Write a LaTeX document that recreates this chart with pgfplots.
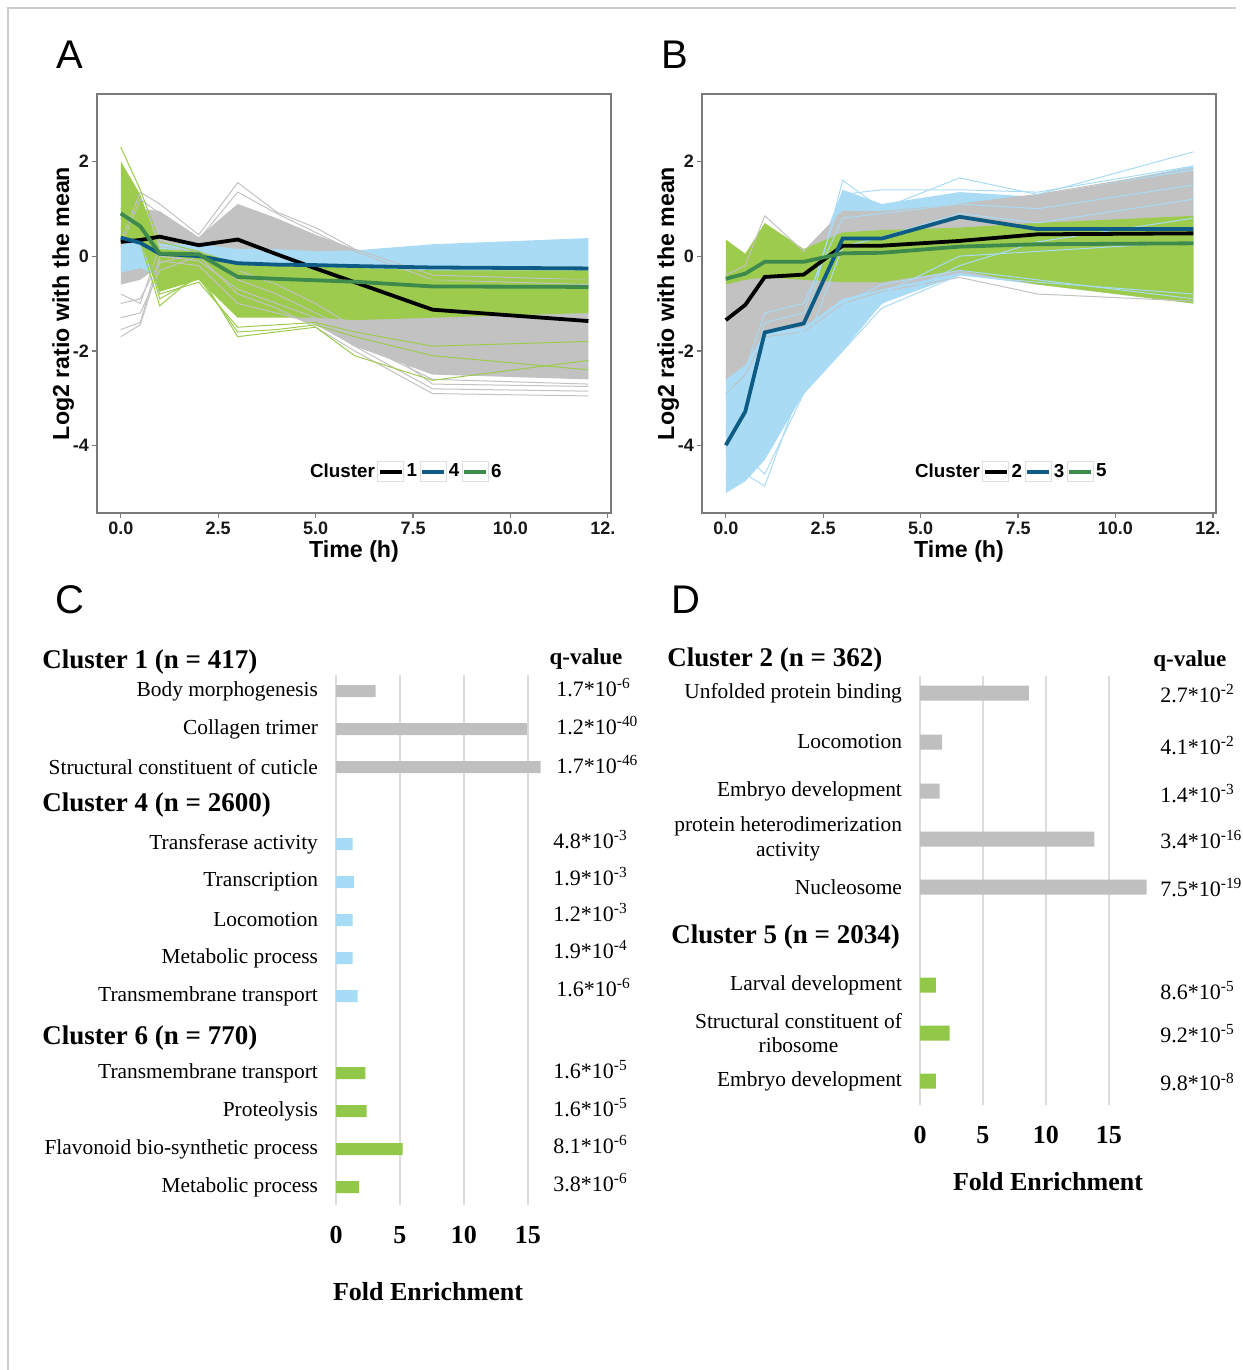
\documentclass[border=0pt]{standalone}
\usepackage{fontspec}
\setmainfont{Liberation Serif}
\setsansfont{Liberation Sans}
\usepackage{pgfplots}
\pgfplotsset{compat=1.18}
\usepackage{pgfplotstable}
\usepgfplotslibrary{fillbetween}

\definecolor{grayL}{HTML}{C2C2C2}
\definecolor{blueL}{HTML}{A9DBF5}
\definecolor{greenL}{HTML}{9CCB4E}
\definecolor{blueM}{HTML}{0E5C85}
\definecolor{greenM}{HTML}{3E8A4C}
\definecolor{frameC}{HTML}{7A7A7A}
\definecolor{barG}{HTML}{BFBFBF}
\definecolor{barB}{HTML}{A6DCF6}
\definecolor{barE}{HTML}{92C84A}
\definecolor{gridC}{HTML}{DCDCDC}

% ---------------- Panel A data ----------------
\pgfplotstableread{
t    m1     m4     m6
0    0.30   0.39   0.90
0.5  0.34   0.28   0.63
1    0.41   0.05   0.05
2    0.23   0.00   0.04
3    0.35  -0.15  -0.44
4    0.04  -0.18  -0.48
5   -0.26  -0.19  -0.51
6   -0.55  -0.21  -0.54
8   -1.13  -0.24  -0.64
12  -1.37  -0.26  -0.65
}\Ameans
\pgfplotstableread{
t    hi     lo     l1     l2     l3     l4     l5     l6     l7
0    0.45  -0.60   0.30   0.20  -1.70  -1.55  -1.30  -1.00  -0.80
0.5  1.00  -0.50   1.35   1.20  -1.45  -1.40  -1.20  -0.90  -1.00
1    0.95  -0.20   1.10   0.90  -0.15   0.00  -0.30  -0.10   0.20
2    0.40  -0.30   0.45   0.35   0.10  -0.10   0.00  -0.20   0.10
3    1.10  -1.00   1.55   1.35  -0.50  -0.70  -0.80  -1.00  -0.30
4    0.80  -1.20   0.93   0.90  -0.80  -1.00  -1.10  -1.20  -0.60
5    0.45  -1.45   0.60   0.50  -1.20  -1.30  -1.50  -1.40  -1.00
6    0.15  -1.90   0.15   0.10  -1.60  -1.80  -2.00  -1.90  -1.50
8   -0.30  -2.50  -0.40  -0.50  -2.30  -2.60  -2.90  -2.80  -2.70
12  -0.40  -2.60  -0.50  -0.60  -2.50  -2.70  -2.95  -2.85  -2.75
}\Agray
\pgfplotstableread{
t    hi     lo
0    0.55  -0.35
0.5  0.45  -0.25
1    0.25  -0.45
2    0.25  -0.35
3    0.15  -0.50
4    0.15  -0.50
5    0.10  -0.50
6    0.12  -0.55
8    0.25  -0.60
12   0.38  -0.75
}\Ablue
\pgfplotstableread{
t    hi     lo     l1     l2     l3     l4
0    2.00   0.40   2.30   0.60   0.80   1.00
0.5  1.30   0.30   1.40   0.30   0.50   0.60
1    0.15  -0.75   0.30  -1.05  -0.90  -0.80
2    0.10  -0.50   0.10  -0.35  -0.45  -0.55
3   -0.15  -1.30  -0.30  -1.70  -1.60  -1.50
4   -0.15  -1.30  -0.35  -1.60  -1.55  -1.45
5   -0.20  -1.30  -0.40  -1.50  -1.45  -1.40
6   -0.25  -1.35  -0.45  -2.10  -1.70  -1.60
8   -0.30  -1.30  -0.50  -2.62  -2.10  -1.90
12  -0.30  -1.20  -0.50  -2.20  -2.40  -1.80
}\Agreen

% ---------------- Panel B data ----------------
\pgfplotstableread{
t    m2     m3     m5
0   -1.35  -3.99  -0.48
0.5 -1.03  -3.28  -0.37
1   -0.44  -1.61  -0.12
2   -0.39  -1.42  -0.12
3    0.22   0.37   0.06
4    0.22   0.37   0.07
6    0.32   0.83   0.20
8    0.46   0.57   0.25
12   0.48   0.57   0.27
}\Bmeans
\pgfplotstableread{
t    hi     lo     l1     l2     l3     l4     l5     l6     l7     l8
0   -2.50  -5.00  -4.90  -4.50  -3.40  -3.70  -4.10  -2.90  -3.00  -4.70
0.5 -2.20  -4.75  -4.60  -4.20  -3.00  -3.10  -3.60  -2.40  -2.70  -4.00
1   -1.00  -4.30  -4.85  -4.60  -1.80  -1.40  -2.10  -1.20  -2.30  -3.00
2   -0.70  -2.90  -2.60  -2.90  -1.60  -1.20  -2.30  -1.00  -1.80  -2.00
3    1.40  -2.00  -1.00  -2.00   1.60   1.30  -1.90   0.80  -1.40   0.20
4    1.10  -1.00  -0.60  -1.10   1.00   1.40  -1.00   0.90  -0.80   0.40
6    1.35  -0.40  -0.30  -0.40   1.65   1.40  -0.20   1.10   0.00   0.90
8    1.25  -0.60  -0.50  -0.55   1.30   1.35   0.30   1.00   0.10   0.70
12   1.90  -1.00  -0.90  -0.80   2.20   1.90   0.80   1.50   0.30   1.20
}\Bblue
\pgfplotstableread{
t    hi     lo     l1     l2
0   -0.30  -2.60  -0.40  -2.90
0.5 -0.20  -2.30  -0.20  -2.50
1    0.40  -1.60   0.85  -1.70
2    0.10  -1.50   0.10  -1.60
3    0.95  -0.90   0.95  -1.00
4    0.95  -0.70   0.90  -0.75
6    1.10  -0.35   1.10  -0.45
8    1.30  -0.60   1.30  -0.80
12   1.80  -0.80   1.85  -0.95
}\Bgray
\pgfplotstableread{
t    hi     lo
0    0.35  -0.60
0.5  0.05  -0.50
1    0.70  -0.45
2    0.15  -0.50
3    0.50  -0.55
4    0.55  -0.55
6    0.60  -0.30
8    0.70  -0.60
12   0.85  -1.00
}\Bgreen

% ---------------- Panel C / D data ----------------
\pgfplotstableread{
y    v
691  3.1
729  14.95
767  16.0
}\Cone
\pgfplotstableread{
y    v
844  1.3
882  1.4
920  1.3
958  1.3
996  1.7
}\Cfour
\pgfplotstableread{
y    v
1073 2.3
1111 2.4
1149 5.2
1187 1.8
}\Csix
\pgfplotstableread{
y    v
693  8.65
742  1.75
791  1.55
839  13.85
887  18.0
}\Dtwo
\pgfplotstableread{
y    v
985  1.25
1033 2.35
1081 1.25
}\Dfive

\pgfplotsset{
  tsplot/.style={
    scale only axis, width=257pt, height=209.5pt,
    xmin=-0.61, xmax=12.58, ymin=-5.42, ymax=3.42,
    axis line style={draw=frameC, line width=0.7pt},
    tick align=outside, xtick pos=left, ytick pos=left,
    major tick length=2.5pt,
    tick style={draw=frameC, line width=0.6pt},
    xtick={0,2.5,5,7.5,10,12.5},
    xticklabels={0.0,2.5,5.0,7.5,10.0,{\rlap{12.}\phantom{12.5}}},
    ytick={-4,-2,0,2}, yticklabels={-4,-2,0,2},
    ticklabel style={font=\sffamily\bfseries\fontsize{9}{11}\selectfont, text=black!90},
    xticklabel style={yshift=1.5pt},
    yticklabel style={xshift=2pt},
    xlabel={Time (h)}, ylabel={Log2 ratio with the mean},
    label style={font=\sffamily\bfseries\fontsize{11.6}{14}\selectfont},
    xlabel style={at={(axis description cs:0.5,-0.093)}, anchor=center},
    ylabel style={at={(axis description cs:-0.066,0.5)}, anchor=center},
    legend style={draw=none, fill=none, legend columns=-1, inner xsep=0pt,
      font=\sffamily\bfseries\fontsize{9.4}{11}\selectfont,
      nodes={inner xsep=1.2pt},
      /tikz/every even column/.append style={column sep=0pt}},
    legend image code/.code={
      \draw[gray!25, line width=0.5pt] (0pt,-5pt) rectangle (13pt,5pt);
      \draw[#1] (1pt,0pt) -- (12pt,0pt);},
  },
  barplot/.style={
    scale only axis, y dir=reverse,
    axis line style={draw=none}, tick style={draw=none},
    xmajorgrids, major grid style={draw=gridC, line width=1pt},
    xtick={0,5,10,15}, xticklabels={0,5,10,15},
    xticklabel style={font=\bfseries\fontsize{13}{15}\selectfont, yshift=-7pt},
    yticklabel style={font=\fontsize{10.7}{12.3}\selectfont, align=center, xshift=-5.5pt},
    clip=false,
  },
}

\begin{document}
\begin{tikzpicture}
\begin{scope}[x=0.5pt, y=-0.5pt]
\useasboundingbox (0,0) rectangle (1236,1370);
\draw[gray!40, line width=0.6pt] (8,1370) -- (8,8) -- (1236,8);
\coordinate (A0) at (97,513);
\coordinate (B0) at (702,513);
\coordinate (C0) at (336,1205);
\coordinate (D0) at (920,1105);
\end{scope}

% ======== Panel A ========
\begin{axis}[tsplot, at={(A0)}, anchor=south west,
  legend style={at={(0.601,0.098)}, anchor=center}]
\addlegendimage{empty legend}\addlegendentry{Cluster}
\addlegendimage{black, line width=1.8pt}\addlegendentry{1}
\addlegendimage{blueM, line width=1.8pt}\addlegendentry{4}
\addlegendimage{greenM, line width=1.8pt}\addlegendentry{6}
\addplot[name path=agh, draw=none, forget plot] table[x=t,y=hi]{\Agray};
\addplot[name path=agl, draw=none, forget plot] table[x=t,y=lo]{\Agray};
\addplot[fill=grayL, draw=none, forget plot] fill between[of=agh and agl];
\pgfplotsinvokeforeach{l1,l2,l3,l4,l5,l6,l7}{
  \addplot[grayL, line width=0.5pt, forget plot] table[x=t,y=#1]{\Agray};}
\addplot[name path=abh, draw=none, forget plot] table[x=t,y=hi]{\Ablue};
\addplot[name path=abl, draw=none, forget plot] table[x=t,y=lo]{\Ablue};
\addplot[fill=blueL, draw=none, forget plot] fill between[of=abh and abl];
\addplot[name path=aeh, draw=none, forget plot] table[x=t,y=hi]{\Agreen};
\addplot[name path=ael, draw=none, forget plot] table[x=t,y=lo]{\Agreen};
\addplot[fill=greenL, draw=none, forget plot] fill between[of=aeh and ael];
\pgfplotsinvokeforeach{l1,l2,l3,l4}{
  \addplot[greenL, line width=0.5pt, forget plot] table[x=t,y=#1]{\Agreen};}
\addplot[black, line width=1.9pt, forget plot] table[x=t,y=m1]{\Ameans};
\addplot[blueM, line width=1.9pt, forget plot] table[x=t,y=m4]{\Ameans};
\addplot[greenM, line width=1.9pt, forget plot] table[x=t,y=m6]{\Ameans};
\end{axis}

% ======== Panel B ========
\begin{axis}[tsplot, at={(B0)}, anchor=south west,
  legend style={at={(0.601,0.098)}, anchor=center}]
\addlegendimage{empty legend}\addlegendentry{Cluster}
\addlegendimage{black, line width=1.8pt}\addlegendentry{2}
\addlegendimage{blueM, line width=1.8pt}\addlegendentry{3}
\addlegendimage{greenM, line width=1.8pt}\addlegendentry{5}
\addplot[name path=bbh, draw=none, forget plot] table[x=t,y=hi]{\Bblue};
\addplot[name path=bbl, draw=none, forget plot] table[x=t,y=lo]{\Bblue};
\addplot[fill=blueL, draw=none, forget plot] fill between[of=bbh and bbl];
\addplot[name path=bgh, draw=none, forget plot] table[x=t,y=hi]{\Bgray};
\addplot[name path=bgl, draw=none, forget plot] table[x=t,y=lo]{\Bgray};
\addplot[fill=grayL, draw=none, forget plot] fill between[of=bgh and bgl];
\pgfplotsinvokeforeach{l1,l2}{
  \addplot[grayL, line width=0.5pt, forget plot] table[x=t,y=#1]{\Bgray};}
\pgfplotsinvokeforeach{l1,l2,l3,l4,l5,l6,l7,l8}{
  \addplot[blueL, line width=0.5pt, forget plot] table[x=t,y=#1]{\Bblue};}
\addplot[name path=beh, draw=none, forget plot] table[x=t,y=hi]{\Bgreen};
\addplot[name path=bel, draw=none, forget plot] table[x=t,y=lo]{\Bgreen};
\addplot[fill=greenL, draw=none, forget plot] fill between[of=beh and bel];
\addplot[black, line width=1.9pt, forget plot] table[x=t,y=m2]{\Bmeans};
\addplot[blueM, line width=1.9pt, forget plot] table[x=t,y=m3]{\Bmeans};
\addplot[greenM, line width=1.9pt, forget plot] table[x=t,y=m5]{\Bmeans};
\end{axis}

% ======== Panel C ========
\begin{axis}[barplot, at={(C0)}, anchor=south west,
  width=105.5pt, height=265pt, xmin=0, xmax=16.5, ymin=675, ymax=1205,
  ytick={691,729,767,844,882,920,958,996,1073,1111,1149,1187},
  yticklabels={Body morphogenesis, Collagen trimer, Structural constituent of cuticle,
    Transferase activity, Transcription, Locomotion, Metabolic process, Transmembrane transport,
    Transmembrane transport, Proteolysis, Flavonoid bio-synthetic process, Metabolic process}]
\addplot[xbar, bar shift=0pt, bar width=6pt, fill=barG, draw=none] table[x=v,y=y]{\Cone};
\addplot[xbar, bar shift=0pt, bar width=6pt, fill=barB, draw=none] table[x=v,y=y]{\Cfour};
\addplot[xbar, bar shift=0pt, bar width=6pt, fill=barE, draw=none] table[x=v,y=y]{\Csix};
\end{axis}

% ======== Panel D ========
\begin{axis}[barplot, at={(D0)}, anchor=south west,
  width=116.5pt, height=214.5pt, xmin=0, xmax=18.5, ymin=676, ymax=1105,
  ytick={693,742,791,839,887,985,1033,1081},
  yticklabels={Unfolded protein binding, Locomotion, Embryo development,
    {protein heterodimerization\\activity}, Nucleosome, Larval development,
    {Structural constituent of\\ribosome}, Embryo development}]
\addplot[xbar, bar shift=0pt, bar width=7.5pt, fill=barG, draw=none] table[x=v,y=y]{\Dtwo};
\addplot[xbar, bar shift=0pt, bar width=7.5pt, fill=barE, draw=none] table[x=v,y=y]{\Dfive};
\end{axis}

% ======== Text ========
\begin{scope}[x=0.5pt, y=-0.5pt]
\tikzset{pl/.style={font=\sffamily\fontsize{20}{24}\selectfont},
  hd/.style={font=\bfseries\fontsize{13.5}{16}\selectfont, anchor=west, inner sep=0pt},
  qv/.style={font=\fontsize{11}{13}\selectfont, anchor=west, inner sep=0pt},
  fe/.style={font=\bfseries\fontsize{13}{15}\selectfont}}
\node[pl] at (70,55) {A};
\node[pl] at (675,55) {B};
\node[pl] at (70,600) {C};
\node[pl] at (686,600) {D};

\node[hd] at (42,662) {Cluster 1 (n = 417)};
\node[hd] at (42,805) {Cluster 4 (n = 2600)};
\node[hd] at (42,1038) {Cluster 6 (n = 770)};
\node[font=\bfseries\fontsize{11.5}{13}\selectfont] at (586,659) {q-value};
\node[qv] at (556,688) {1.7*10\textsuperscript{-6}};
\node[qv] at (556,726) {1.2*10\textsuperscript{-40}};
\node[qv] at (556,765) {1.7*10\textsuperscript{-46}};
\node[qv] at (553,840) {4.8*10\textsuperscript{-3}};
\node[qv] at (553,877) {1.9*10\textsuperscript{-3}};
\node[qv] at (553,913) {1.2*10\textsuperscript{-3}};
\node[qv] at (553,950) {1.9*10\textsuperscript{-4}};
\node[qv] at (556,988) {1.6*10\textsuperscript{-6}};
\node[qv] at (553,1070) {1.6*10\textsuperscript{-5}};
\node[qv] at (553,1108) {1.6*10\textsuperscript{-5}};
\node[qv] at (553,1145) {8.1*10\textsuperscript{-6}};
\node[qv] at (553,1183) {3.8*10\textsuperscript{-6}};
\node[fe] at (428,1292) {Fold Enrichment};

\node[hd] at (667,660) {Cluster 2 (n = 362)};
\node[hd] at (671,937) {Cluster 5 (n = 2034)};
\node[font=\bfseries\fontsize{11.5}{13}\selectfont, anchor=west, inner sep=0pt] at (1153,661) {q-value};
\node[qv] at (1160,694) {2.7*10\textsuperscript{-2}};
\node[qv] at (1160,746) {4.1*10\textsuperscript{-2}};
\node[qv] at (1160,794) {1.4*10\textsuperscript{-3}};
\node[qv] at (1160,840) {3.4*10\textsuperscript{-16}};
\node[qv] at (1160,888) {7.5*10\textsuperscript{-19}};
\node[qv] at (1160,991) {8.6*10\textsuperscript{-5}};
\node[qv] at (1160,1034) {9.2*10\textsuperscript{-5}};
\node[qv] at (1160,1082) {9.8*10\textsuperscript{-8}};
\node[fe] at (1048,1182) {Fold Enrichment};
\end{scope}
\end{tikzpicture}
\end{document}
